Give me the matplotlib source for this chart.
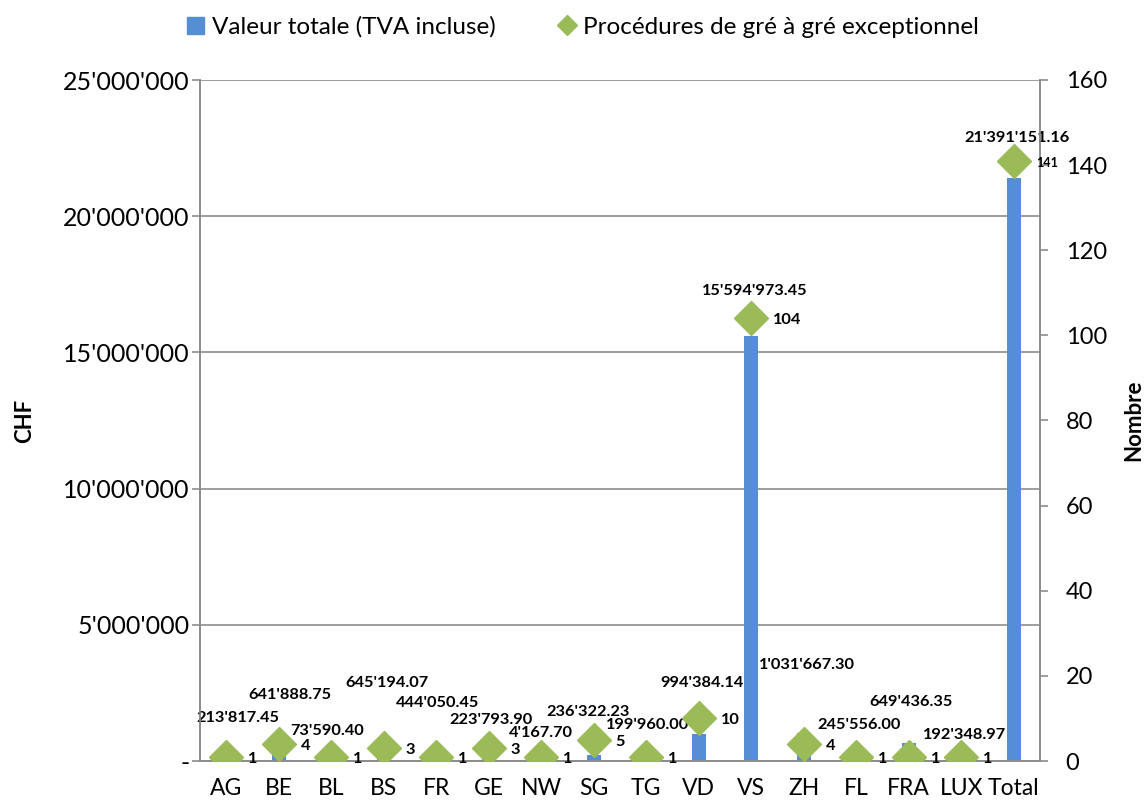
import matplotlib.pyplot as plt
from matplotlib.ticker import FuncFormatter, MultipleLocator
from matplotlib.lines import Line2D
from matplotlib.patches import Patch

plt.rcParams['font.family'] = ['Lato', 'DejaVu Sans']

# data
categories = ['AG', 'BE', 'BL', 'BS', 'FR', 'GE', 'NW', 'SG', 'TG', 'VD', 'VS', 'ZH', 'FL', 'FRA', 'LUX', 'Total']
valeur = [213817.45, 641888.75, 73590.40, 645194.07, 444050.45, 223793.90, 4167.70, 236322.23,
          199960.00, 994384.14, 15594973.45, 1031667.30, 245556.00, 649436.35, 192348.97, 21391151.16]
nombre = [1, 4, 1, 3, 1, 3, 1, 5, 1, 10, 104, 4, 1, 1, 1, 141]
valeur_labels = ["213'817.45", "641'888.75", "73'590.40", "645'194.07", "444'050.45", "223'793.90",
                 "4'167.70", "236'322.23", "199'960.00", "994'384.14", "15'594'973.45", "1'031'667.30",
                 "245'556.00", "649'436.35", "192'348.97", "21'391'151.16"]

# label offsets in pixels (dx, dy) from bar top, Excel-like placement
label_offsets = [(12, 37), (11, 49), (-4, 28), (3, 60), (1, 46), (2, 35), (0, 28), (-6, 43),
                 (1, 31), (3, 51), (4, 45), (3, 68), (3, 29), (2, 41), (3, 21), (3, 40)]

BLUE = '#558ED5'
GREEN = '#9BBB59'
GRID = '#8C8C8C'

fig = plt.figure(figsize=(11.44, 8.01), dpi=100)
ax = fig.add_axes([200/1144, 40/801, 840/1144, 681/801])
ax2 = ax.twinx()

x = list(range(len(categories)))
ax.bar(x, valeur, width=0.27, color=BLUE, zorder=2)
ax.set_xlim(-0.5, len(categories) - 0.5)
ax.set_ylim(0, 25000000)
ax.yaxis.set_major_locator(MultipleLocator(5000000))

def chf(v, pos):
    if v == 0:
        return '-'
    return format(int(v), ',').replace(',', "'")

ax.yaxis.set_major_formatter(FuncFormatter(chf))
ax.grid(axis='y', color=GRID, linewidth=1.2, zorder=0)
ax.set_axisbelow(True)
ax.set_xticks(x)
ax.set_xticklabels(categories, fontsize=16.5)
ax.tick_params(axis='x', length=0, pad=12)
ax.tick_params(axis='y', length=5.5, width=1.2, color=GRID, labelsize=18, pad=2)
for s in ['top']:
    ax.spines[s].set_visible(False)
    ax2.spines[s].set_visible(False)
for s in ['left', 'bottom', 'right']:
    ax.spines[s].set_color(GRID)
    ax.spines[s].set_linewidth(1.2)
    ax2.spines[s].set_color(GRID)
    ax2.spines[s].set_linewidth(1.2)

ax2.set_ylim(0, 160)
ax2.yaxis.set_major_locator(MultipleLocator(20))
ax2.tick_params(axis='y', length=5.5, width=1.2, color=GRID, labelsize=17, pad=13)
ax2.plot(x, nombre, linestyle='none', marker='D', markersize=17, color=GREEN, zorder=3)

ax.set_ylabel('CHF', fontsize=16, fontweight='bold', labelpad=20)
ax2.set_ylabel('Nombre', fontsize=16, fontweight='bold', labelpad=12)

px = 0.72  # points per pixel at 100 dpi
for i, (v, lab) in enumerate(zip(valeur, valeur_labels)):
    dx, dy = label_offsets[i]
    ax.annotate(lab, xy=(i, v), xytext=(dx * px, dy * px), textcoords='offset points',
                ha='center', va='center', fontsize=11.8, fontweight='bold', zorder=5)

for i, n in enumerate(nombre):
    fs = 9 if categories[i] == 'Total' else 11.8
    ax2.annotate(str(n), xy=(i, n), xytext=(22 * px, -2 * px), textcoords='offset points',
                 ha='left', va='center', fontsize=fs, fontweight='bold', zorder=5)

handles = [Patch(color=BLUE, label='Valeur totale (TVA incluse)'),
           Line2D([], [], linestyle='none', marker='D', markersize=10, color=GREEN,
                  label='Procédures de gré à gré exceptionnel')]
fig.legend(handles=handles, loc='center', bbox_to_anchor=(583/1144, 1 - 27/801), ncol=2,
           frameon=False, fontsize=17.5, handlelength=0.7, handletextpad=0.3, columnspacing=2.6)

fig.savefig('out.png', dpi=100)
